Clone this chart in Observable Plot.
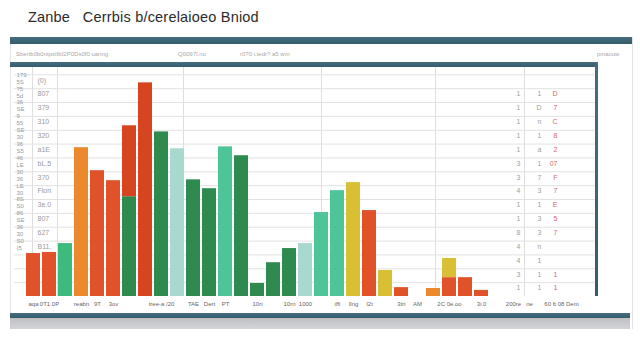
<!DOCTYPE html>
<html>
<head>
<meta charset="utf-8">
<script src="https://cdn.jsdelivr.net/npm/d3@7"></script>
<script src="https://cdn.jsdelivr.net/npm/@observablehq/plot@0.6"></script>
<style>
  html, body { margin: 0; padding: 0; background: #fff; width: 640px; height: 360px; overflow: hidden; }
  body { position: relative; font-family: "Liberation Sans", "DejaVu Sans", sans-serif; }
  .abs { position: absolute; }
  #title { left: 28px; top: 9px; font-size: 14.5px; color: #2b2b2b; white-space: nowrap; letter-spacing: 0.2px; }
  .band { background: linear-gradient(#456f80, #335c6d); }
  .hdr { font-size: 6px; color: #a8a8a8; white-space: nowrap; top: 51px; }
  .vline { background: #dedede; width: 1px; }
  #chart { left: 10px; top: 45px; z-index: 1; }
  .over { z-index: 2; }
</style>
</head>
<body>
<div id="title" class="abs">Zanbe &nbsp; Cerrbis b/cerelaioeo Bniod</div>
<div class="abs band over" style="left:10px; top:37px; width:622px; height:7px;"></div>
<div class="abs" style="left:632px; top:37px; width:1px; height:292px; background:#e2e2e2;"></div>
<div class="abs" style="left:10px; top:44px; width:1px; height:270px; background:#e4e4e4;"></div>
<div class="abs hdr over" style="left:16px;">Sbertb0b0ntpsIIbI2P0Ds0f0 uanng</div>
<div class="abs hdr over" style="left:178px;">Q0097I.no</div>
<div class="abs hdr over" style="left:240px;">r0?0 i.tedr? a5 wm</div>
<div class="abs hdr over" style="left:597px;">pmacuw</div>
<div class="abs band over" style="left:10px; top:62px; width:588px; height:5px;"></div>
<div class="abs band over" style="left:595px; top:62px; width:3px; height:234px;"></div>
<div class="abs vline" style="left:32px; top:67px; height:229px; z-index:0;"></div>
<div class="abs vline" style="left:57px; top:67px; height:229px; z-index:0;"></div>
<div class="abs vline" style="left:183px; top:67px; height:229px; z-index:0;"></div>
<div class="abs vline" style="left:321px; top:67px; height:229px; z-index:0;"></div>
<div class="abs vline" style="left:435px; top:67px; height:229px; z-index:0;"></div>
<div class="abs vline" style="left:524px; top:67px; height:229px; z-index:0;"></div>
<div id="chart" class="abs"></div>
<div class="abs band over" style="left:10px; top:313px; width:620px; height:5px;"></div>
<div class="abs over" style="left:10px; top:318px; width:620px; height:11px; background: linear-gradient(#bfc0c4, #d3d4d7);"></div>
<script>
// ---- Data ----
const slots = ["s01","s02","s03","s04","s05","s06","s07","s08","s09","s10",
               "s11","s12","s13","s14","s15","s16","s17","s18","s19","s20",
               "s21","s22","s23","s24","s25","s26","s27","s28","s29","s30",
               "s31","s32","s33","s34","s35"];

const tickLabels = ["aqa","0T1.0P","","reabn","9T","3ov","","","tree-a /20","",
                    "TAE","Dert","PT","","10ri","","10rn","1000","","iffi",
                    "Ilng","I2t","","3tri","AM","","2C 0e.oo","","3i.0","",
                    "200re","ne","","60 ft 08 Dem",""];

const segSlot   = ["s01","s02","s03","s04","s05","s06","s07","s07","s08","s09",
                   "s10","s11","s12","s13","s14","s15","s16","s17","s18","s19",
                   "s20","s21","s22","s23","s24","s26","s27","s27","s28","s29"];
const segValue  = [15.5, 15.9, 19.1, 53.7, 45.4, 41.8, 36.0, 25.6, 77.1, 59.4,
                   53.3, 42.1, 38.9, 54.0, 50.8, 4.7, 12.2, 17.3, 19.1, 30.3,
                   38.2, 41.1, 31.0, 9.4, 3.2, 2.9, 6.8, 6.9, 6.8, 2.2];
const segSeries = ["Red","Red","Green","Orange","Red","Red","Forest","Crimson","Crimson","Forest",
                   "Teal","Forest","Forest","Mint","Forest","Forest","Forest","Forest","Teal","Mint",
                   "Mint","Yellow","Red","Yellow","Red","Orange","Red","Yellow","Red","Red"];

const seriesNames = ["Red","Crimson","Orange","Green","Forest","Teal","Mint","Yellow"];

const gridTicks = [5,10,15,20,25,30,35,40,45,50,55,60,65,70,75,80];

const halfRows = [17.5,20,22.5,25,27.5,30,32.5,35,37.5,40,42.5,45,47.5,50,52.5,55,57.5,60,62.5,65,67.5,70,72.5,75,77.5,80];
const col1Labels = ["(5","S0","30","36","SE","86","S0","8S","30","LE",
                    "36","30","LE","46","S5","36","30","SE","55","9",
                    "SE","36","5d","?5","5S","1?9"];

const rowTicks = [3,8,13,18,23,28,33,38,43,48,53,58,63,68,73,78];
const col2Labels = ["","","","B11.","627","807","3e.0","Flon","370","bL.5","a1E","320","310","379","807","(0)"];
const colALabels = ["1","3","4","4","8","1","1","4","3","3","1","1","1","1","1",""];
const colBLabels = ["1","1","1","n","3","3","1","3","7","1","a","1","n","D","1",""];
const colCLabels = ["1","1","","","7","5","E","7","F","07","2","8","C","7","D",""];

// ---- Build ----
const segments = segSlot.map((s, i) => ({slot: s, value: segValue[i], series: segSeries[i]}));
const tickMap = new Map(slots.map((s, i) => [s, tickLabels[i]]));
const col1Map = new Map(halfRows.map((v, i) => [v, col1Labels[i]]));
const col2Map = new Map(rowTicks.map((v, i) => [v, col2Labels[i]]));
const colAMap = new Map(rowTicks.map((v, i) => [v, colALabels[i]]));
const colBMap = new Map(rowTicks.map((v, i) => [v, colBLabels[i]]));
const colCMap = new Map(rowTicks.map((v, i) => [v, colCLabels[i]]));

const chart = Plot.plot({
  width: 588,
  height: 268,
  marginLeft: 4,
  marginRight: 1,
  marginTop: 21,
  marginBottom: 17,
  style: {background: "transparent", fontFamily: "Liberation Sans, DejaVu Sans, sans-serif"},
  x: {type: "band", domain: slots, paddingInner: 0.1, paddingOuter: 0},
  y: {domain: [0, 83]},
  color: {domain: seriesNames,
          range: ["#e1522a", "#d6451f", "#ea8a2c", "#3dbb7c", "#2f8a50", "#a8d9ce", "#4ec499", "#d8bf34"]},
  marks: [
    Plot.gridY({ticks: gridTicks, stroke: "#e2e2e2", strokeOpacity: 1}),
    Plot.axisY({ticks: halfRows, tickFormat: d => col1Map.get(d), anchor: "left", tickSize: 0, tickPadding: 0,
                textAnchor: "start", dx: 2, fontSize: 6, fill: "#8fa0a6", label: null}),
    Plot.axisY({ticks: rowTicks, tickFormat: d => col2Map.get(d), anchor: "left", tickSize: 0, tickPadding: 0,
                textAnchor: "start", dx: 23, fontSize: 7, fill: "#9a9a9a", label: null}),
    Plot.axisY({ticks: rowTicks, tickFormat: d => colAMap.get(d), anchor: "right", tickSize: 0, tickPadding: 0,
                textAnchor: "end", dx: -77, fontSize: 7, fill: "#a0a0a0", label: null}),
    Plot.axisY({ticks: rowTicks, tickFormat: d => colBMap.get(d), anchor: "right", tickSize: 0, tickPadding: 0,
                textAnchor: "end", dx: -56, fontSize: 7, fill: "#a0a0a0", label: null}),
    Plot.axisY({ticks: rowTicks, tickFormat: d => colCMap.get(d), anchor: "right", tickSize: 0, tickPadding: 0,
                textAnchor: "end", dx: -40, fontSize: 7, fill: "#d46a6a", label: null}),
    Plot.barY(segments, {x: "slot", y: "value", fill: "series"}),
    Plot.axisX({tickFormat: d => tickMap.get(d), tickSize: 0, tickPadding: 5, fontSize: 6, fill: "#666", label: null})
  ]
});
document.getElementById("chart").appendChild(chart);
</script>
</body>
</html>
